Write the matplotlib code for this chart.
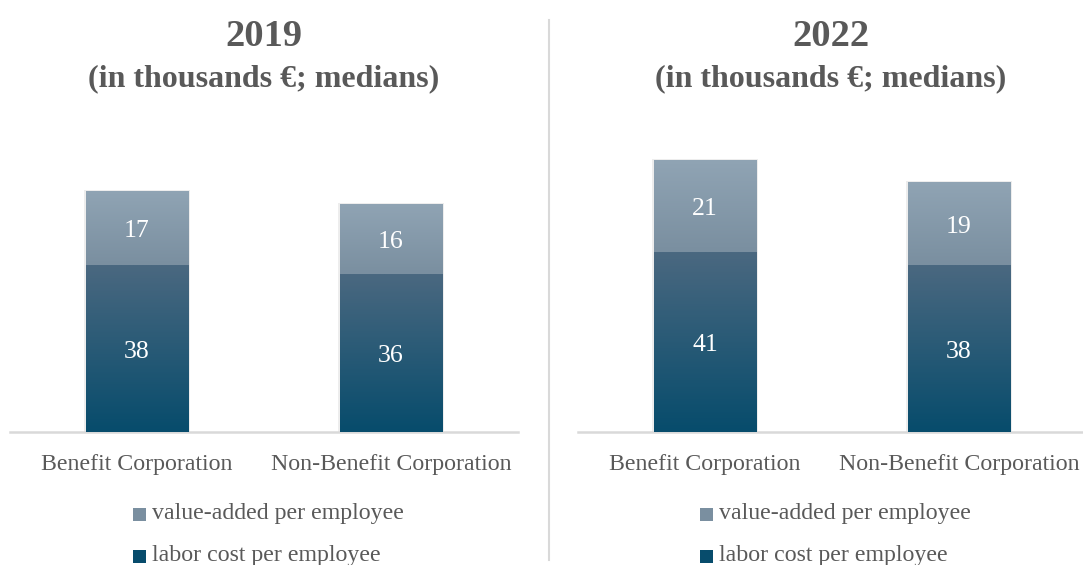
#Stacked bars of value-added and labor cost per employee, 2019 vs 2022

import numpy as np
import matplotlib.pyplot as plt
from matplotlib.patches import Rectangle
from matplotlib.colors import LinearSegmentedColormap

plt.rcParams['font.family'] = ['Liberation Serif', 'DejaVu Serif']

#Input data
years = ['2019', '2022']
categories = ['Benefit Corporation', 'Non-Benefit Corporation']
labor_cost = [[38, 36], [41, 38]]
value_added = [[17, 16], [21, 19]]
series_names = ['value-added per employee', 'labor cost per employee']

grey = '#595959'
#gradient ends (top, bottom)
va_cols = ['#90a4b4', '#7a8fa0']
lc_cols = ['#4a6880', '#074c6c']

def grad_bar(ax, x, y0, h, w, cols):
    cmap = LinearSegmentedColormap.from_list('g', cols[::-1])
    img = np.linspace(0, 1, 100).reshape(-1, 1)
    im = ax.imshow(img, cmap=cmap, aspect='auto', origin='lower',
                   extent=(x - w/2, x + w/2, y0, y0 + h), zorder=3)
    clip = Rectangle((x - w/2, y0), w, h, transform=ax.transData)
    im.set_clip_path(clip)

fig = plt.figure(figsize=(10.83, 5.65), dpi=100)

#axes placement in pixels (left, right)
panels = [(10, 518), (578, 1086)]
W, H = 1083., 565.
base_px, top_px = 432., 100.
ymax = (base_px - top_px) / 4.385
w = 0.405

for k, (l, r) in enumerate(panels):
    ax = fig.add_axes([l/W, 1 - base_px/H, (r - l)/W, (base_px - top_px)/H])
    ax.set_xlim(-0.5, 1.5)
    ax.set_ylim(0, ymax)
    x = np.arange(len(categories))
    for i in x:
        lc = labor_cost[k][i]
        va = value_added[k][i]
        #soft shadow
        ax.add_patch(Rectangle((i - w/2 - 0.006, 0), w + 0.012, lc + va + 0.15,
                               color='k', alpha=0.07, lw=0, zorder=2))
        grad_bar(ax, i, 0, lc, w, lc_cols)
        grad_bar(ax, i, lc, va, w, va_cols)
        for yv, v in [(lc/2, lc), (lc + va/2, va)]:
            ax.annotate(str(v), (i, yv), xytext=(0, -3), textcoords='offset pixels',
                        ha='center', va='center', color='white',
                        fontsize=18.5, zorder=4)
    ax.set_xticks(x)
    ax.set_xticklabels(categories, fontsize=17.2, color=grey)
    ax.tick_params(axis='x', length=0, pad=16)
    ax.set_yticks([])
    for sp in ['top', 'right', 'left']:
        ax.spines[sp].set_visible(False)
    ax.spines['bottom'].set_color('#d9d9d9')
    ax.spines['bottom'].set_linewidth(1.8)

    cx = (l + min(r, W)) / 2 / W
    fig.text(cx, 1 - 37/H, years[k], ha='center', va='center',
             fontsize=27.7, fontweight='bold', color=grey)
    fig.text(cx, 1 - 79/H, '(in thousands €; medians)', ha='center', va='center',
             fontsize=23, fontweight='bold', color=grey)

    #legend
    mx = [133, 700][k]
    for j, (name, cols) in enumerate(zip(series_names, [va_cols, lc_cols])):
        yc = [514, 556][j]
        fig.patches.append(Rectangle((mx/W, 1 - (yc + 7)/H), 13/W, 13/H,
                                     transform=fig.transFigure,
                                     color=cols[1], lw=0))
        fig.text((mx + 19)/W, 1 - yc/H, name, ha='left', va='center',
                 fontsize=17.2, color=grey)

#separator
fig.add_artist(plt.Line2D([549/W, 549/W], [1 - 20/H, 1 - 560/H],
                          transform=fig.transFigure, color='#d9d9d9', lw=1.5))

plt.savefig('out.png', dpi=100)
